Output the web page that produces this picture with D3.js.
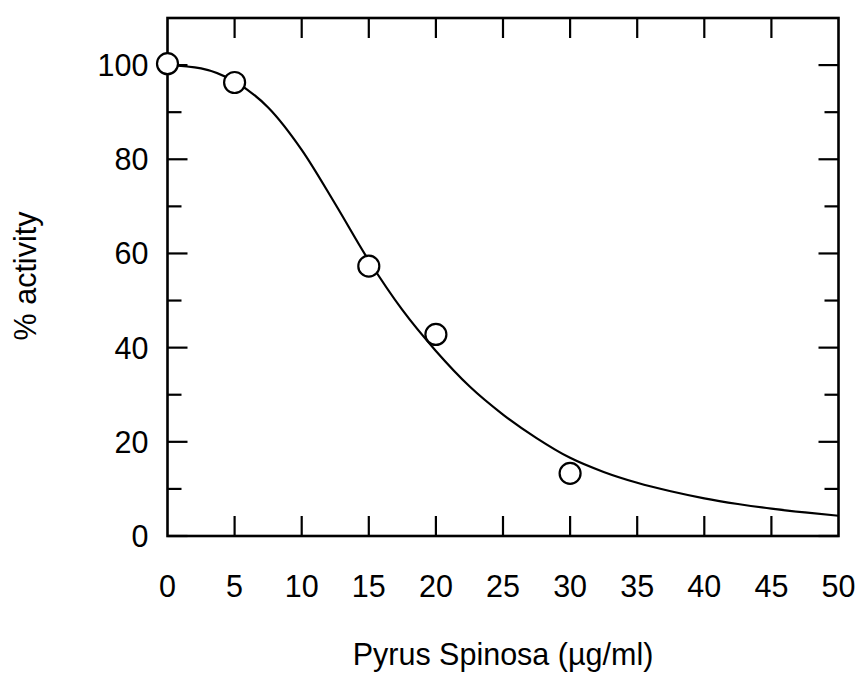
<!DOCTYPE html>
<html>
<head>
<meta charset="utf-8">
<script src="https://cdn.jsdelivr.net/npm/d3@7"></script>
<style>
  body { margin: 0; background: #fff; }
  svg { display: block; font-family: "Liberation Sans", Arial, sans-serif; }
</style>
</head>
<body>
<div id="chart"></div>
<script>
// measured points
var doseX = [0, 5, 15, 20, 30];
var activityY = [100.3, 96.3, 57.3, 42.8, 13.3];

// fitted curve
var fitX = [0, 2.5, 5, 7.5, 10, 12.5, 15, 17.5, 20, 22.5, 25, 27.5, 30, 32.5, 35, 37.5, 40, 42.5, 45, 47.5, 50];
var fitY = [100, 99.3, 96.5, 91, 82, 70.5, 58.5, 48, 39.3, 31.8, 25.8, 20.8, 16.6, 13.6, 11.3, 9.5, 8.0, 6.8, 5.8, 5.0, 4.3];

var xTicks = [0, 5, 10, 15, 20, 25, 30, 35, 40, 45, 50];
var yTicks = [0, 20, 40, 60, 80, 100];
var yMinorTicks = [10, 30, 50, 70, 90];

var width = 858, height = 674;
var margin = {top: 18, right: 20, bottom: 138, left: 167.5};
var w = 838.5 - margin.left, h = 536 - margin.top;

var x = d3.scaleLinear().domain([0, 50]).range([0, w]);
var y = d3.scaleLinear().domain([0, 110]).range([h, 0]);

var svg = d3.select('#chart').append('svg')
  .attr('width', width)
  .attr('height', height)
  .append('g')
  .attr('transform', 'translate(' + margin.left + ',' + margin.top + ')');

var sw = 2.2;
var fontSize = '30.5px';

// ticks on all four sides, pointing in
var tickLen = 20, minorLen = 14;
xTicks.slice(1, -1).forEach(function(t){
  svg.append('line').attr('x1', x(t)).attr('x2', x(t))
    .attr('y1', 0).attr('y2', tickLen)
    .attr('stroke', '#000').attr('stroke-width', sw);
  svg.append('line').attr('x1', x(t)).attr('x2', x(t))
    .attr('y1', h).attr('y2', h - tickLen)
    .attr('stroke', '#000').attr('stroke-width', sw);
});
yTicks.concat(yMinorTicks).forEach(function(t){
  var len = yMinorTicks.indexOf(t) >= 0 ? minorLen : tickLen;
  svg.append('line').attr('x1', 0).attr('x2', len)
    .attr('y1', y(t)).attr('y2', y(t))
    .attr('stroke', '#000').attr('stroke-width', sw);
  svg.append('line').attr('x1', w).attr('x2', w - len)
    .attr('y1', y(t)).attr('y2', y(t))
    .attr('stroke', '#000').attr('stroke-width', sw);
});

svg.append('rect')
  .attr('x', 0).attr('y', 0)
  .attr('width', w).attr('height', h)
  .attr('fill', 'none')
  .attr('stroke', '#000')
  .attr('stroke-width', 2.6);

// tick labels
svg.selectAll('.xlab')
  .data(xTicks)
  .enter().append('text')
  .attr('class', 'xlab')
  .attr('x', function(d){ return x(d); })
  .attr('y', 597 - margin.top)
  .attr('text-anchor', 'middle')
  .style('font-size', fontSize)
  .text(function(d){ return d; });

svg.selectAll('.ylab')
  .data(yTicks)
  .enter().append('text')
  .attr('class', 'ylab')
  .attr('x', -19)
  .attr('y', function(d){ return y(d); })
  .attr('dy', '0.36em')
  .attr('text-anchor', 'end')
  .style('font-size', fontSize)
  .text(function(d){ return d; });

// axis titles
svg.append('text')
  .attr('x', w / 2)
  .attr('y', 665 - margin.top)
  .attr('text-anchor', 'middle')
  .style('font-size', fontSize)
  .text('Pyrus Spinosa (\u00b5g/ml)');

svg.append('text')
  .attr('transform', 'translate(' + (36 - margin.left) + ',' + (276 - margin.top) + ') rotate(-90)')
  .attr('text-anchor', 'middle')
  .style('font-size', fontSize)
  .text('% activity');

// fitted curve
var fit = fitX.map(function(d, i){ return [d, fitY[i]]; });
svg.append('path')
  .datum(fit)
  .attr('fill', 'none')
  .attr('stroke', '#000')
  .attr('stroke-width', sw)
  .attr('d', d3.line()
    .x(function(d){ return x(d[0]); })
    .y(function(d){ return y(d[1]); })
    .curve(d3.curveMonotoneX));

// data points
var pts = doseX.map(function(d, i){ return {x: d, y: activityY[i]}; });
svg.selectAll('.pt')
  .data(pts)
  .enter().append('circle')
  .attr('class', 'pt')
  .attr('cx', function(d){ return x(d.x); })
  .attr('cy', function(d){ return y(d.y); })
  .attr('r', 10.5)
  .attr('fill', '#fff')
  .attr('stroke', '#000')
  .attr('stroke-width', sw);
</script>
</body>
</html>
